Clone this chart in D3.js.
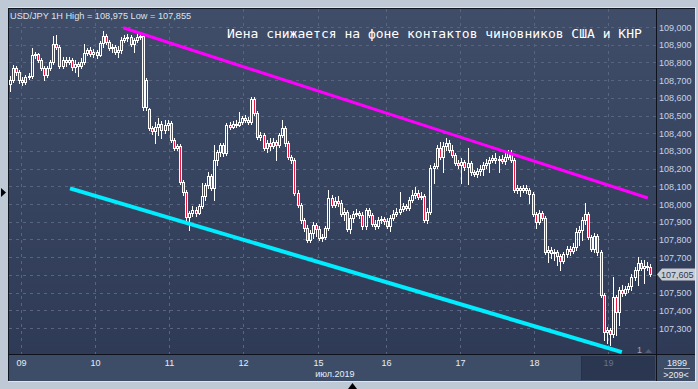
<!DOCTYPE html>
<html>
<head>
<meta charset="utf-8">
<title>USD/JPY 1H</title>
<script src="https://d3js.org/d3.v7.min.js"></script>
<style>
  html, body { margin: 0; padding: 0; background: #bfc8d5; }
  svg { display: block; }
</style>
</head>
<body>
<div id="chart"></div>
<script>
// hourly candles, one row per bar: [open, high, low, close]
var candles = [
  [108.677,108.723,108.638,108.700],[108.700,108.785,108.689,108.768],[108.768,108.779,108.729,108.746],
  [108.746,108.757,108.683,108.700],[108.700,108.717,108.672,108.689],[108.689,108.729,108.677,108.717],
  [108.717,108.740,108.706,108.723],[108.723,108.881,108.712,108.842],[108.842,108.859,108.825,108.847],
  [108.847,108.853,108.802,108.813],[108.813,108.825,108.757,108.768],[108.768,108.779,108.700,108.729],
  [108.729,108.779,108.717,108.768],[108.768,108.813,108.757,108.802],[108.802,108.949,108.790,108.903],
  [108.903,108.955,108.876,108.887],[108.887,108.898,108.768,108.779],[108.779,108.830,108.768,108.813],
  [108.813,108.830,108.779,108.802],[108.802,108.830,108.790,108.813],[108.813,108.825,108.757,108.773],
  [108.773,108.813,108.746,108.790],[108.790,108.802,108.723,108.779],[108.779,108.825,108.768,108.802],
  [108.802,108.903,108.790,108.853],[108.853,108.881,108.842,108.870],[108.870,108.887,108.836,108.847],
  [108.847,108.876,108.830,108.859],[108.859,108.870,108.825,108.842],[108.842,108.921,108.836,108.909],
  [108.909,108.975,108.887,108.949],[108.949,108.960,108.903,108.915],[108.915,108.926,108.870,108.881],
  [108.881,108.903,108.859,108.887],[108.887,108.898,108.847,108.859],[108.859,108.892,108.830,108.870],
  [108.870,108.943,108.853,108.926],[108.926,108.955,108.915,108.938],[108.938,108.960,108.921,108.943],
  [108.943,108.955,108.892,108.903],[108.903,108.938,108.859,108.926],[108.926,108.960,108.915,108.943],
  [108.943,108.966,108.932,108.949],[108.949,108.960,108.531,108.548],[108.548,108.712,108.531,108.700],
  [108.537,108.543,108.418,108.430],[108.430,108.441,108.396,108.413],[108.413,108.464,108.345,108.435],
  [108.435,108.486,108.390,108.452],[108.452,108.469,108.373,108.418],[108.418,108.475,108.401,108.446],
  [108.446,108.475,108.418,108.458],[108.458,108.469,108.350,108.362],[108.362,108.373,108.305,108.316],
  [108.316,108.339,108.305,108.328],[108.328,108.339,108.113,108.124],[108.124,108.136,108.051,108.068],
  [108.068,108.079,107.910,107.927],[107.927,107.961,107.853,107.949],[107.949,107.989,107.932,107.966],
  [107.966,107.983,107.932,107.949],[107.949,108.000,107.944,107.989],[107.989,108.119,107.977,108.045],
  [108.045,108.119,108.023,108.107],[108.107,108.181,108.090,108.158],[108.158,108.170,108.079,108.090],
  [108.090,108.333,108.023,108.249],[108.249,108.305,108.220,108.294],[108.294,108.345,108.271,108.333],
  [108.333,108.345,108.271,108.288],[108.288,108.458,108.277,108.446],[108.446,108.464,108.424,108.435],
  [108.435,108.469,108.430,108.452],[108.452,108.475,108.435,108.446],[108.446,108.520,108.441,108.464],
  [108.464,108.497,108.452,108.486],[108.486,108.503,108.464,108.475],[108.475,108.492,108.452,108.464],
  [108.464,108.605,108.452,108.594],[108.594,108.605,108.503,108.514],[108.514,108.525,108.367,108.379],
  [108.379,108.407,108.362,108.390],[108.390,108.401,108.305,108.316],[108.316,108.362,108.294,108.345],
  [108.345,108.373,108.305,108.328],[108.328,108.373,108.316,108.350],[108.350,108.362,108.249,108.333],
  [108.333,108.401,108.322,108.390],[108.390,108.475,108.379,108.430],[108.430,108.441,108.328,108.345],
  [108.345,108.356,108.254,108.266],[108.266,108.277,108.232,108.249],[108.249,108.260,108.051,108.062],
  [108.062,108.079,107.983,107.994],[107.994,108.006,107.893,107.910],[107.910,107.921,107.847,107.864],
  [107.864,107.881,107.785,107.797],[107.797,107.853,107.785,107.836],[107.836,107.898,107.808,107.881],
  [107.881,107.893,107.819,107.859],[107.859,107.876,107.797,107.808],[107.808,107.831,107.791,107.814],
  [107.814,107.876,107.802,107.864],[107.864,108.079,107.853,108.034],[108.034,108.051,107.983,107.994],
  [107.994,108.040,107.983,108.017],[108.017,108.045,107.989,108.006],[108.006,108.023,107.932,107.944],
  [107.944,107.977,107.910,107.955],[107.955,107.966,107.847,107.859],[107.859,107.938,107.836,107.921],
  [107.921,107.961,107.898,107.944],[107.944,107.972,107.932,107.949],[107.949,107.961,107.921,107.938],
  [107.938,107.955,107.859,107.876],[107.876,107.977,107.859,107.966],[107.966,107.977,107.927,107.938],
  [107.938,107.949,107.876,107.887],[107.887,107.910,107.859,107.876],[107.876,107.927,107.864,107.910],
  [107.910,107.932,107.893,107.915],[107.915,107.927,107.887,107.904],[107.904,107.921,107.864,107.876],
  [107.876,107.938,107.847,107.921],[107.921,107.966,107.910,107.944],[107.944,107.977,107.932,107.955],
  [107.955,108.068,107.944,107.972],[107.972,108.006,107.961,107.989],[107.989,108.000,107.966,107.977],
  [107.977,108.040,107.966,108.023],[108.023,108.079,108.011,108.051],[108.051,108.096,108.034,108.062],
  [108.062,108.079,108.028,108.040],[108.040,108.068,108.028,108.045],[108.045,108.057,107.898,107.910],
  [107.910,107.977,107.893,107.955],[107.955,108.220,107.944,108.204],[108.204,108.232,108.119,108.215],
  [108.215,108.333,108.204,108.316],[108.316,108.350,108.254,108.266],[108.266,108.350,108.181,108.328],
  [108.328,108.373,108.305,108.345],[108.345,108.362,108.294,108.305],[108.305,108.333,108.266,108.277],
  [108.277,108.288,108.220,108.232],[108.232,108.249,108.204,108.220],[108.220,108.260,108.119,108.237],
  [108.237,108.249,108.192,108.209],[108.209,108.316,108.113,108.232],[108.232,108.243,108.164,108.181],
  [108.181,108.192,108.158,108.170],[108.170,108.203,108.153,108.187],[108.187,108.220,108.164,108.198],
  [108.198,108.237,108.164,108.220],[108.220,108.254,108.204,108.232],[108.232,108.266,108.181,108.249],
  [108.249,108.277,108.237,108.260],[108.260,108.288,108.232,108.249],[108.249,108.271,108.181,108.254],
  [108.254,108.277,108.232,108.243],[108.243,108.294,108.226,108.266],[108.266,108.305,108.254,108.288],
  [108.288,108.305,108.237,108.249],[108.249,108.260,108.068,108.079],[108.079,108.107,108.062,108.090],
  [108.090,108.102,108.045,108.079],[108.079,108.107,108.068,108.090],[108.090,108.107,108.062,108.079],
  [108.079,108.090,108.006,108.057],[108.057,108.068,107.932,107.944],[107.944,107.955,107.864,107.898],
  [107.898,107.966,107.887,107.949],[107.949,107.961,107.910,107.921],[107.921,107.932,107.717,107.729],
  [107.729,107.763,107.673,107.740],[107.740,107.757,107.695,107.723],[107.723,107.746,107.684,107.729],
  [107.729,107.740,107.655,107.706],[107.706,107.717,107.627,107.678],[107.678,107.729,107.667,107.717],
  [107.717,107.763,107.700,107.746],[107.746,107.763,107.712,107.734],[107.734,107.780,107.723,107.757],
  [107.757,107.864,107.740,107.842],[107.842,107.876,107.768,107.853],[107.853,107.927,107.797,107.910],
  [107.910,108.006,107.887,107.944],[107.944,107.955,107.802,107.814],[107.814,107.825,107.734,107.746],
  [107.746,107.836,107.729,107.819],[107.819,107.831,107.712,107.729],[107.729,107.740,107.475,107.486],
  [107.486,107.497,107.232,107.277],[107.277,107.305,107.215,107.288],[107.288,107.299,107.203,107.266],
  [107.266,107.587,107.249,107.475],[107.475,107.486,107.260,107.390],[107.390,107.531,107.316,107.514],
  [107.514,107.542,107.480,107.497],[107.497,107.537,107.486,107.520],[107.520,107.554,107.503,107.537],
  [107.537,107.604,107.514,107.587],[107.587,107.644,107.571,107.627],[107.627,107.700,107.542,107.667],
  [107.667,107.684,107.627,107.639],[107.639,107.684,107.554,107.650],[107.650,107.673,107.627,107.644],
  [107.644,107.661,107.593,107.605]
];

var dayStarts = [4, 28, 52, 76, 100, 122, 146, 170, 194];
var dayLabels = ["09", "10", "11", "12", "15", "16", "17", "18", "19"];
var priceTicks = [109.0, 108.9, 108.8, 108.7, 108.6, 108.5, 108.4, 108.3, 108.2,
                  108.1, 108.0, 107.9, 107.8, 107.7, 107.6, 107.5, 107.4, 107.3];
var lastPrice = 107.605;
// trend lines as [bar index, price] end points
var resistanceLine = [[36.6, 108.996], [206.3, 108.034]];
var supportLine = [[19.4, 108.089], [197.9, 107.164]];

var titleText = "USD/JPY 1H High = 108,975 Low = 107,855";
var headline = "Иена снижается на фоне контактов чиновников США и КНР";
var monthLabel = "июл.2019";
var cornerTop = "1899", cornerBottom = ">209<";

var W = 698, H = 389;
var plot = {left: 9, right: 656, top: 9, bottom: 354};

var svg = d3.select("#chart").append("svg")
    .attr("width", W)
    .attr("height", H);

var defs = svg.append("defs");
var grad = defs.append("linearGradient")
    .attr("id", "bg").attr("x1", 0).attr("y1", 0).attr("x2", 0).attr("y2", 1);
grad.append("stop").attr("offset", "0%").attr("stop-color", "#3f4d68");
grad.append("stop").attr("offset", "100%").attr("stop-color", "#2f3b56");

defs.append("clipPath").attr("id", "clip")
  .append("rect")
    .attr("x", plot.left).attr("y", plot.top)
    .attr("width", plot.right - plot.left).attr("height", plot.bottom - plot.top);

// frame
svg.append("rect").attr("width", W).attr("height", H).attr("fill", "#bfc8d5");
svg.append("rect").attr("x", 8).attr("y", 7).attr("width", 688).attr("height", 375)
    .attr("fill", "#dfe4ea");
svg.append("rect").attr("x", 8).attr("y", 8).attr("width", 687).attr("height", 373)
    .attr("fill", "#111722");
svg.append("rect").attr("x", plot.left).attr("y", plot.top)
    .attr("width", plot.right - plot.left).attr("height", plot.bottom - plot.top)
    .attr("fill", "url(#bg)");
svg.append("rect").attr("x", 657).attr("y", plot.top)
    .attr("width", 38).attr("height", plot.bottom - plot.top)
    .attr("fill", "url(#bg)");
svg.append("rect").attr("x", plot.left).attr("y", 355)
    .attr("width", plot.right - plot.left).attr("height", 26)
    .attr("fill", "#3e4d67");
svg.append("rect").attr("x", 657).attr("y", 355)
    .attr("width", 38).attr("height", 26)
    .attr("fill", "#3e4d67");
// darker box behind the last day label
svg.append("rect").attr("x", 582).attr("y", 356)
    .attr("width", 73).attr("height", 24)
    .attr("fill", "#2b3750");
svg.append("line").attr("x1", 581.5).attr("x2", 581.5).attr("y1", 356).attr("y2", 380)
    .attr("stroke", "#26304a");

var x = d3.scaleLinear()
    .domain([0, candles.length - 1])
    .range([10, 650]);

var y = d3.scaleLinear()
    .domain([107.3, 109.0])
    .range([328, 27]);

// grid
var grid = svg.append("g")
    .attr("stroke", "#59657f")
    .attr("stroke-dasharray", "3,4");

grid.selectAll(".h").data(priceTicks).enter().append("line")
    .attr("x1", plot.left).attr("x2", plot.right)
    .attr("y1", function(d) { return Math.round(y(d)) + 0.5; })
    .attr("y2", function(d) { return Math.round(y(d)) + 0.5; });

grid.selectAll(".v").data(dayStarts).enter().append("line")
    .attr("y1", plot.top).attr("y2", plot.bottom)
    .attr("x1", function(d) { return Math.round(x(d) - 1.5) + 0.5; })
    .attr("x2", function(d) { return Math.round(x(d) - 1.5) + 0.5; });

// candles
var chart = svg.append("g").attr("clip-path", "url(#clip)");

var bars = chart.selectAll(".bar").data(candles).enter().append("g");

bars.each(function(d, i) {
  var g = d3.select(this);
  var cx = Math.round(x(i));
  var top = Math.round(y(Math.max(d[0], d[3])));
  var bot = Math.round(y(Math.min(d[0], d[3])));
  var hy = Math.round(y(d[1]));
  var ly = Math.round(y(d[2]));
  if (hy < top) {
    g.append("line").attr("x1", cx + 0.5).attr("x2", cx + 0.5)
      .attr("y1", hy).attr("y2", top).attr("stroke", "#ffffff");
  }
  if (ly > bot) {
    g.append("line").attr("x1", cx + 0.5).attr("x2", cx + 0.5)
      .attr("y1", bot + 1).attr("y2", ly + 1).attr("stroke", "#ffffff");
  }
  g.append("rect")
    .attr("x", cx - 0.5)
    .attr("y", top + 0.5)
    .attr("width", 2)
    .attr("height", Math.max(bot - top, 1))
    .attr("fill", d[3] < d[0] ? "#ec1a40" : "none")
    .attr("stroke", "#ffffff")
    .attr("stroke-width", 1);
});

// trend lines
var trend = d3.line()
    .x(function(d) { return x(d[0]); })
    .y(function(d) { return y(d[1]); });

chart.append("path").datum(supportLine)
    .attr("d", trend)
    .attr("stroke", "#00ecff")
    .attr("stroke-width", 4)
    .attr("fill", "none");

chart.append("path").datum(resistanceLine)
    .attr("d", trend)
    .attr("stroke", "#ff00ff")
    .attr("stroke-width", 3)
    .attr("fill", "none");

// separators
svg.append("line").attr("x1", 656.5).attr("x2", 656.5).attr("y1", 8).attr("y2", 381)
    .attr("stroke", "#0d121c");
svg.append("line").attr("x1", 8).attr("x2", 695).attr("y1", 354.5).attr("y2", 354.5)
    .attr("stroke", "#0d121c");

// price axis
var fmt = function(v) { return d3.format(".3f")(v).replace(".", ","); };

svg.append("g").selectAll("text")
    .data(priceTicks.filter(function(d) { return Math.abs(d - 107.6) > 1e-6; }))
    .enter().append("text")
    .attr("x", 659)
    .attr("y", function(d) { return y(d) + 3.5; })
    .attr("font-family", "Liberation Sans, Arial, sans-serif")
    .attr("font-size", "9px")
    .attr("fill", "#c6d3e8")
    .text(fmt);

var yc = Math.round(y(lastPrice)) + 0.5;
svg.append("path")
    .attr("d", "M657," + yc + "L662," + (yc - 6) + "H695V" + (yc + 6) + "H662Z")
    .attr("fill", "#c9ced6");
svg.append("text")
    .attr("x", 661).attr("y", yc + 3.5)
    .attr("font-family", "Liberation Sans, Arial, sans-serif")
    .attr("font-size", "9px")
    .attr("fill", "#2c3852")
    .text(fmt(lastPrice));

// time axis
svg.append("g").selectAll("text")
    .data(dayStarts).enter().append("text")
    .attr("x", function(d) { return Math.round(x(d) - 1.5) + 0.5; })
    .attr("y", 366)
    .attr("text-anchor", "middle")
    .attr("font-family", "Liberation Sans, Arial, sans-serif")
    .attr("font-size", "9px")
    .attr("fill", function(d, i) { return i === dayStarts.length - 1 ? "#65738e" : "#e6edf6"; })
    .text(function(d, i) { return dayLabels[i]; });

svg.append("text")
    .attr("x", x(dayStarts[4]) - 4)
    .attr("y", 377)
    .attr("font-family", "Liberation Sans, Arial, sans-serif")
    .attr("font-size", "9px")
    .attr("fill", "#e6edf6")
    .text(monthLabel);

// corner box
svg.append("text").attr("x", 677).attr("y", 366).attr("text-anchor", "middle")
    .attr("font-family", "Liberation Sans, Arial, sans-serif").attr("font-size", "9px")
    .attr("fill", "#e6edf6").text(cornerTop);
svg.append("line").attr("x1", 664).attr("x2", 690).attr("y1", 368.5).attr("y2", 368.5)
    .attr("stroke", "#aeb8c8");
svg.append("text").attr("x", 676).attr("y", 378).attr("text-anchor", "middle")
    .attr("font-family", "Liberation Sans, Arial, sans-serif").attr("font-size", "9px")
    .attr("fill", "#e6edf6").text(cornerBottom);

// small marker near the last bar
svg.append("text").attr("x", 637).attr("y", 353)
    .attr("font-family", "Liberation Sans, Arial, sans-serif").attr("font-size", "9px")
    .attr("fill", "#9ea8b8").text("1");
svg.append("path").attr("d", "M645,353L648.5,349L652,353Z").attr("fill", "#525c70");

// titles
svg.append("text")
    .attr("x", 10).attr("y", 18.5)
    .attr("font-family", "Liberation Sans, Arial, sans-serif")
    .attr("font-size", "9.2px")
    .attr("fill", "#dde3ec")
    .text(titleText);

svg.append("text")
    .attr("x", 227).attr("y", 38)
    .attr("font-family", "DejaVu Sans Mono, monospace")
    .attr("font-size", "13px")
    .attr("fill", "#ffffff")
    .text(headline);

// scroll markers outside the panel
svg.append("path").attr("d", "M1,188L6,192.5L1,197Z").attr("fill", "#000000");
svg.append("path").attr("d", "M348,389L352.5,383L357,389Z").attr("fill", "#000000");
</script>
</body>
</html>
